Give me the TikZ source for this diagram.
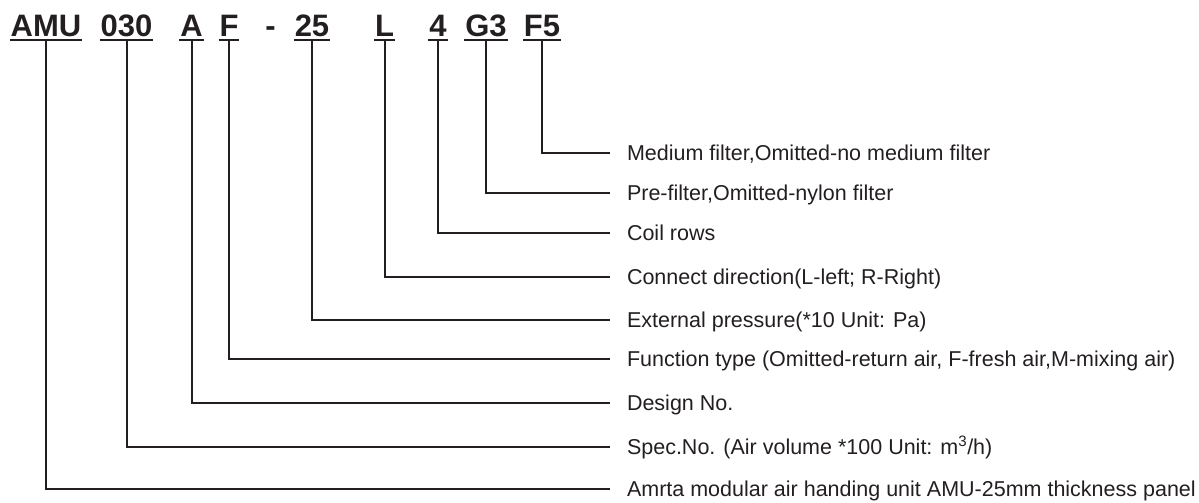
\documentclass[tikz,border=0pt]{standalone}
\usepackage{fontspec}
\setmainfont{Liberation Sans}
\usepackage{tikz}
\usetikzlibrary{arrows.meta, calc, positioning}
\definecolor{code-black}{RGB}{35,31,32}
\tikzset{%
  every path/.style={line width=2pt},
    code/.style={%
        anchor=base,
        inner sep=0pt,
        text=code-black,
        font=\fontsize{31}{31}\selectfont\bfseries,
    },
    meaning/.style={%
        anchor=base west,
        inner sep=0pt,
        text=code-black,
        font=\fontsize{21.5}{22}\selectfont,
    },
    underline/.style={%
        draw=code-black,
    },
    edge/.style={%
        draw=code-black,
    },
}

\begin{document}
\begin{tikzpicture}[x=1pt, y=1pt]
  \useasboundingbox (0,0) rectangle (1199,503);

  \node [code] at (46, 466) (amu) {AMU};
  \node [code] at (126.5, 466) (spec) {030};
  \node [code] at (191.5, 466) (design) {A};
  \node [code] at (229, 466) (func) {F};
  \node [code] at (270.5, 466) (dash) {-};
  \node [code] at (312, 466) (press) {25};
  \node [code] at (384.5, 466) (conn) {L};
  \node [code] at (438, 466) (rows) {4};
  \node [code] at (486, 466) (pre) {G3};
  \node [code] at (542, 466) (medium) {F5};

  \node [meaning] at (626, 342.5) (medium_txt) {Medium filter,Omitted-no medium filter};
  \node [meaning] at (626, 302.5) (pre_txt) {Pre-filter,Omitted-nylon filter};
  \node [meaning] at (626, 262.5) (rows_txt) {Coil rows};
  \node [meaning] at (626, 218.5) (conn_txt) {Connect direction(L-left; R-Right)};
  \node [meaning] at (626, 175.5) (press_txt) {External pressure(*10 Unit: Pa)};
  \node [meaning] at (626, 136.5) (func_txt) {Function type (Omitted-return air, F-fresh air,M-mixing air)};
  \node [meaning] at (626, 92.5) (design_txt) {Design No.};
  \node [meaning] at (626, 48.5) (spec_txt) {Spec.No. (Air volume *100 Unit: m\textsuperscript{3}/h)};
  \node [meaning] at (626, 6.5) (amu_txt) {Amrta modular air handing unit AMU-25mm thickness panel};

  % underlines below the code letters
  \draw[underline] ([yshift=-3pt]amu.base west) -- ([yshift=-3pt]amu.base east);
  \draw[underline] ([yshift=-3pt]spec.base west) -- ([yshift=-3pt]spec.base east);
  \draw[underline] ([yshift=-3pt]design.base west) -- ([yshift=-3pt]design.base east);
  \draw[underline] ([yshift=-3pt]func.base west) -- ([yshift=-3pt]func.base east);
  \draw[underline] ([yshift=-3pt]press.base west) -- ([yshift=-3pt]press.base east);
  \draw[underline] ([yshift=-3pt]conn.base west) -- ([yshift=-3pt]conn.base east);
  \draw[underline] ([yshift=-3pt]rows.base west) -- ([yshift=-3pt]rows.base east);
  \draw[underline] ([yshift=-3pt]pre.base west) -- ([yshift=-3pt]pre.base east);
  \draw[underline] ([yshift=-3pt]medium.base west) -- ([yshift=-3pt]medium.base east);

  \draw[edge] ([yshift=-3pt]medium.base) |- ($(medium_txt.base west) + (-16pt, 7.5pt)$);
  \draw[edge] ([yshift=-3pt]pre.base) |- ($(pre_txt.base west) + (-16pt, 7.5pt)$);
  \draw[edge] ([yshift=-3pt]rows.base) |- ($(rows_txt.base west) + (-16pt, 7.5pt)$);
  \draw[edge] ([yshift=-3pt]conn.base) |- ($(conn_txt.base west) + (-16pt, 7.5pt)$);
  \draw[edge] ([yshift=-3pt]press.base) |- ($(press_txt.base west) + (-16pt, 7.5pt)$);
  \draw[edge] ([yshift=-3pt]func.base) |- ($(func_txt.base west) + (-16pt, 7.5pt)$);
  \draw[edge] ([yshift=-3pt]design.base) |- ($(design_txt.base west) + (-16pt, 7.5pt)$);
  \draw[edge] ([yshift=-3pt]spec.base) |- ($(spec_txt.base west) + (-16pt, 7.5pt)$);
  \draw[edge] ([yshift=-3pt]amu.base) |- ($(amu_txt.base west) + (-16pt, 7.5pt)$);
\end{tikzpicture}
\end{document}
